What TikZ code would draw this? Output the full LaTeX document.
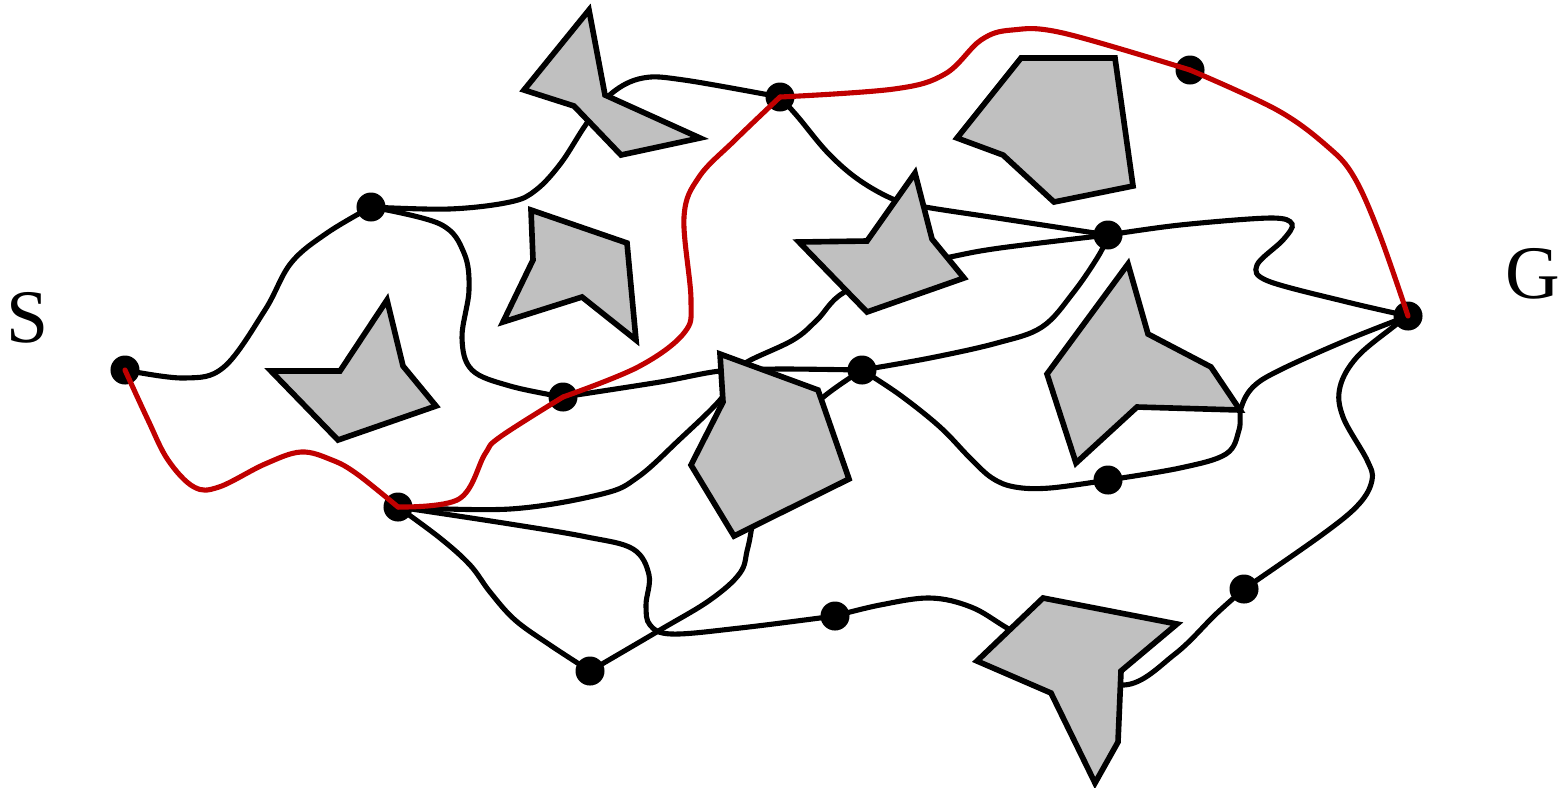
\documentclass[tikz,border=0pt]{standalone}
\usepackage{fontspec}
\setmainfont{Liberation Serif}
\pgfdeclarelayer{edges}
\pgfdeclarelayer{obst}
\pgfdeclarelayer{front}
\pgfsetlayers{edges,obst,main,front}
\definecolor{pathred}{HTML}{C00000}
\definecolor{obstgrey}{HTML}{C0C0C0}
\tikzset{
  waypt/.style={circle, fill=black, inner sep=0pt, minimum size=0.29cm},
  roadmap/.style={line width=1.45pt, black, line cap=round},
  bestpath/.style={line width=1.45pt, pathred, line cap=round},
  obstacle/.style={draw=black, fill=obstgrey, line width=1.6pt, line join=miter},
  endlabel/.style={font=\fontsize{21.5}{24}\selectfont, inner sep=0pt}
}
\begin{document}
\begin{tikzpicture}[x=0.01cm, y=-0.01cm]
\useasboundingbox (0,0) rectangle (1567,787);
% start and goal
\node[endlabel] (S) at (28,318) {S};
\node[endlabel] (G) at (1533,274) {G};
% roadmap nodes
\node[waypt] (n1) at (125,370) {};
\node[waypt] (n2) at (371,207) {};
\node[waypt] (n3) at (563,397) {};
\node[waypt] (n4) at (398,507) {};
\node[waypt] (n5) at (590,671) {};
\node[waypt] (n6) at (780,97) {};
\node[waypt] (n7) at (1190,70) {};
\node[waypt] (n8) at (1108,235) {};
\node[waypt] (n9) at (1408,316) {};
\node[waypt] (n10) at (862,370) {};
\node[waypt] (n11) at (1108,480) {};
\node[waypt] (n12) at (835,616) {};
\node[waypt] (n13) at (1244,589) {};
% roadmap edges
\begin{pgfonlayer}{edges}
\draw[roadmap] plot[smooth, tension=0.6] coordinates {(n1.center) (184,378) (224,367) (265,310) (291,263) (327,233) (n2.center)};
\draw[roadmap] plot[smooth, tension=0.6] coordinates {(n2.center) (449,209) (510,202) (536,190) (561,163) (587,123) (612,93) (643,78) (684,80) (n6.center)};
\draw[roadmap] plot[smooth, tension=0.6] coordinates {(n2.center) (440,224) (464,253) (469,290) (462,338) (472,370) (510,386) (n3.center)};
\draw[roadmap] plot[smooth, tension=0.5] coordinates {(n3.center) (660,382) (720,371) (780,369) (n10.center)};
\draw[roadmap] plot[smooth, tension=0.6] coordinates {(n4.center) (510,509) (602,494) (638,477) (679,440) (720,400) (735,375) (747,362) (793,340) (817,320) (843,293) (900,268) (950,257) (1000,248) (n8.center)};
\draw[roadmap] plot[smooth, tension=0.6] coordinates {(n4.center) (510,524) (587,537) (633,549) (649,575) (646,605) (650,625) (672,634) (740,628) (n12.center)};
\draw[roadmap] plot[smooth, tension=0.6] coordinates {(n4.center) (440,538) (470,565) (490,592) (515,620) (550,645) (n5.center)};
\draw[roadmap] plot[smooth, tension=0.6] coordinates {(n5.center) (660,630) (710,600) (740,573) (748,547) (760,500) (800,430) (820,400) (n10.center)};
\draw[roadmap] plot[smooth, tension=0.6] coordinates {(n6.center) (798,117) (828,153) (859,180) (895,200) (925,207) (997,218) (n8.center)};
\draw[roadmap] plot[smooth, tension=0.55] coordinates {(n8.center) (1180,225) (1270,218) (1292,224) (1283,240) (1257,265) (1268,281) (1347,302) (n9.center)};
\draw[roadmap] plot[smooth, tension=0.6] coordinates {(n8.center) (1099,255) (1073,293) (1042,327) (997,343) (930,358) (n10.center)};
\draw[roadmap] plot[smooth, tension=0.6] coordinates {(n10.center) (900,395) (940,427) (970,458) (992,478) (1015,487) (1050,488) (n11.center)};
\draw[roadmap] plot[smooth, tension=0.6] coordinates {(n11.center) (1180,468) (1226,454) (1239,430) (1241,408) (1253,387) (1280,370) (1347,340) (n9.center)};
\draw[roadmap] plot[smooth, tension=0.6] coordinates {(n9.center) (1393,327) (1357,357) (1340,387) (1343,417) (1367,460) (1372,480) (1359,504) (1323,534) (n13.center)};
\draw[roadmap] plot[smooth, tension=0.6] coordinates {(n13.center) (1216,614) (1175,654) (1124,685) (1060,660) (1007,628) (971,607) (930,598) (880,605) (n12.center)};
\end{pgfonlayer}
% obstacles
\begin{pgfonlayer}{obst}
\draw[obstacle] (589,10) -- (605,95) -- (700,138) -- (621,155) -- (574,106) -- (524,90) -- cycle;
\draw[obstacle] (531,210) -- (627,243) -- (636,340) -- (582,297) -- (503,322) -- (533,260) -- cycle;
\draw[obstacle] (387,300) -- (403,366) -- (436,406) -- (338,440) -- (271,371) -- (340,371) -- cycle;
\draw[obstacle] (1021,58) -- (1115,58) -- (1133,186) -- (1054,202) -- (1003,155) -- (957,138) -- cycle;
\draw[obstacle] (915,173) -- (932,239) -- (964,278) -- (867,312) -- (799,242) -- (867,241) -- cycle;
\draw[obstacle] (1128,264) -- (1148,334) -- (1211,367) -- (1240,410) -- (1137,407) -- (1076,463) -- (1047,374) -- cycle;
\draw[obstacle] (720,354) -- (818,390) -- (849,479) -- (734,536) -- (691,465) -- (723,402) -- cycle;
\draw[obstacle] (1043,598) -- (1177,624) -- (1121,671) -- (1118,742) -- (1095,783) -- (1051,693) -- (977,661) -- cycle;
\end{pgfonlayer}
% shortest path
\begin{pgfonlayer}{front}
\draw[bestpath] plot[smooth, tension=0.6] coordinates {(n1.center) (148,420) (168,460) (194,487) (219,487) (265,464) (301,452) (332,460) (357,474) (n4.center)};
\draw[bestpath] plot[smooth, tension=0.6] coordinates {(n4.center) (459,499) (485,454) (500,437) (n3.center)};
\draw[bestpath] plot[smooth, tension=0.6] coordinates {(n3.center) (638,367) (684,333) (691,300) (684,217) (699,177) (735,140) (n6.center)};
\draw[bestpath] plot[smooth, tension=0.6] coordinates {(n6.center) (894,89) (945,74) (981,40) (1012,30) (1063,33) (n7.center)};
\draw[bestpath] plot[smooth, tension=0.6] coordinates {(n7.center) (1277,110) (1328,147) (1354,177) (1379,233) (n9.center)};
\end{pgfonlayer}
\end{tikzpicture}
\end{document}
